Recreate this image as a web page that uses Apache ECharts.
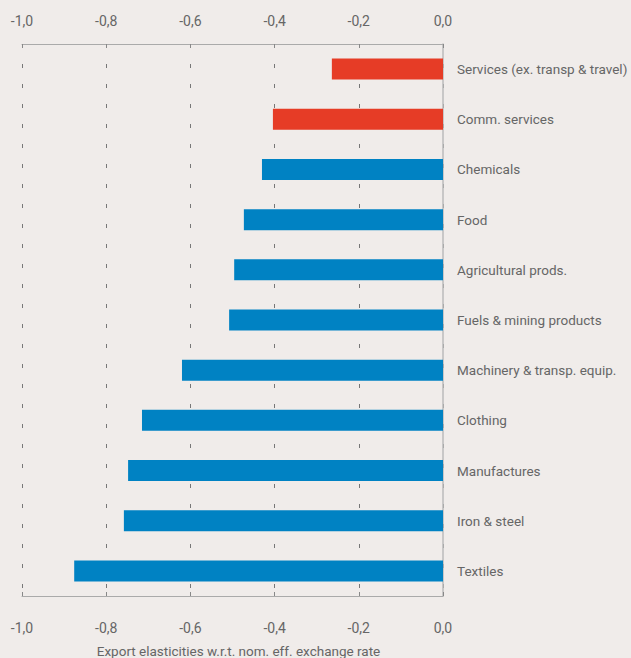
<!DOCTYPE html>
<html>
<head>
<meta charset="utf-8">
<script src="https://cdn.jsdelivr.net/npm/echarts@6/dist/echarts.min.js"></script>
<style>
  html, body { margin: 0; padding: 0; background: #f0ecea; }
  #main { width: 631px; height: 658px; }
</style>
</head>
<body>
<div id="main"></div>
<script>
var chartDom = document.getElementById('main');
var myChart = echarts.init(chartDom, null, { renderer: 'svg' });

const categories = [
    'Services (ex. transp & travel)',
    'Comm. services',
    'Chemicals',
    'Food',
    'Agricultural prods.',
    'Fuels & mining products',
    'Machinery & transp. equip.',
    'Clothing',
    'Manufactures',
    'Iron & steel',
    'Textiles'
];
const values = [-0.264, -0.404, -0.430, -0.473, -0.496, -0.508, -0.620, -0.715, -0.748, -0.758, -0.876];
const isService = [true, true, false, false, false, false, false, false, false, false, false];
const axisTitle = 'Export elasticities w.r.t. nom. eff. exchange rate';

const textColor = '#666';
const font = 'Roboto';
const fmt = v => v.toFixed(1).replace('.', ',');

const valueAxis = (position, showGrid, margin) => ({
    type: 'value',
    position,
    min: -1,
    max: 0,
    interval: 0.2,
    axisLine: { show: true, onZero: false, lineStyle: { color: '#aaa', width: 1 } },
    axisTick: { show: true, inside: true, length: 4, lineStyle: { color: '#888' } },
    axisLabel: { color: textColor, fontFamily: font, fontSize: 14, margin, formatter: fmt },
    splitLine: {
        show: showGrid,
        lineStyle: { color: '#777', type: [4, 16], width: 1 }
    }
});

var option = {
    backgroundColor: '#f0ecea',
    textStyle: { fontFamily: font },
    grid: { left: 22, right: 188, top: 44, bottom: 62, containLabel: false, outerBoundsMode: 'none' },
    xAxis: [
        valueAxis('top', true, 16),
        Object.assign(valueAxis('bottom', false, 25), {
            name: axisTitle,
            nameLocation: 'middle',
            nameGap: 48,
            nameTextStyle: { color: textColor, fontFamily: font, fontSize: 13.5, padding: [0, 0, 0, 12] }
        })
    ],
    yAxis: {
        type: 'category',
        data: categories,
        inverse: true,
        position: 'right',
        axisLine: { show: true, onZero: false, lineStyle: { color: '#bbb', width: 1.5 } },
        axisTick: { show: false },
        axisLabel: { color: textColor, fontFamily: font, fontSize: 13.5, margin: 14, align: 'left' },
        splitLine: { show: false }
    },
    series: [
        {
            type: 'bar',
            xAxisIndex: 0,
            barWidth: 21,
            data: values.map((v, i) => ({
                value: v,
                itemStyle: { color: isService[i] ? '#e63c26' : '#0082c3' }
            }))
        }
    ]
};
option && myChart.setOption(option);
</script>
</body>
</html>
